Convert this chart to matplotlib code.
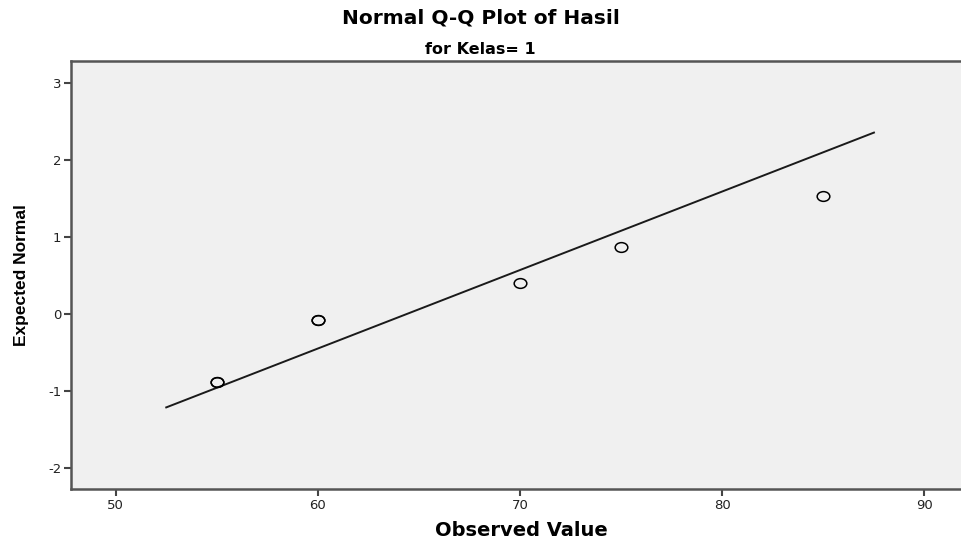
import matplotlib
matplotlib.use('Agg')
import matplotlib.pyplot as plt
from matplotlib.markers import MarkerStyle
from matplotlib.transforms import Affine2D

# values (tied points drawn twice, as in SPSS)
observed = [55, 55, 60, 60, 70, 75, 85]
expected = [-0.88, -0.88, -0.08, -0.08, 0.40, 0.88, 1.53]

# reference line end points
line_x = [52.5, 87.5]
line_y = [-1.21, 2.36]

xticks = [50, 60, 70, 80, 90]
yticks = [-2, -1, 0, 1, 2, 3]

plt.rcParams['font.family'] = ['DejaVu Sans']
plt.rcParams['axes.unicode_minus'] = False

fig = plt.figure(figsize=(9.61, 5.42), dpi=100)
ax = fig.add_axes([71 / 961, 53 / 542, 900 / 961, 428 / 542])
ax.set_facecolor('#f0f0f0')

# the original picture is stretched sideways, so the circles are a bit wide
wide_circle = MarkerStyle('o', fillstyle='none', transform=Affine2D().scale(1.3, 1.0))

ax.plot(line_x, line_y, color='#1a1a1a', lw=1.4)
ax.plot(observed, expected, linestyle='none', marker=wide_circle, ms=7.0,
        mec='black', mew=1.1)

ax.set_xlim(47.79, 92.3)
ax.set_ylim(-2.27, 3.29)
ax.set_xticks(xticks)
ax.set_yticks(yticks)
ax.tick_params(direction='out', length=5, width=1.5, color='#444444',
               labelsize=9.5, labelcolor='#222222', pad=2)

for s in ['left', 'bottom', 'top']:
    ax.spines[s].set_color('#555555')
    ax.spines[s].set_linewidth(1.8)
ax.spines['right'].set_visible(False)

ax.set_xlabel('Observed Value', fontsize=14, fontweight='bold', labelpad=7)
ax.set_ylabel('Expected Normal', fontsize=12.5, fontweight='bold', labelpad=14,
              family=['Liberation Sans', 'DejaVu Sans'])

fig.text(0.5, 1 - 18 / 542, 'Normal Q-Q Plot of Hasil', ha='center', va='center',
         fontsize=14.5, fontweight='bold')
fig.text(0.5, 1 - 49 / 542, 'for Kelas= 1', ha='center', va='center',
         fontsize=11.5, fontweight='bold')

fig.savefig('out.png', dpi=100)
